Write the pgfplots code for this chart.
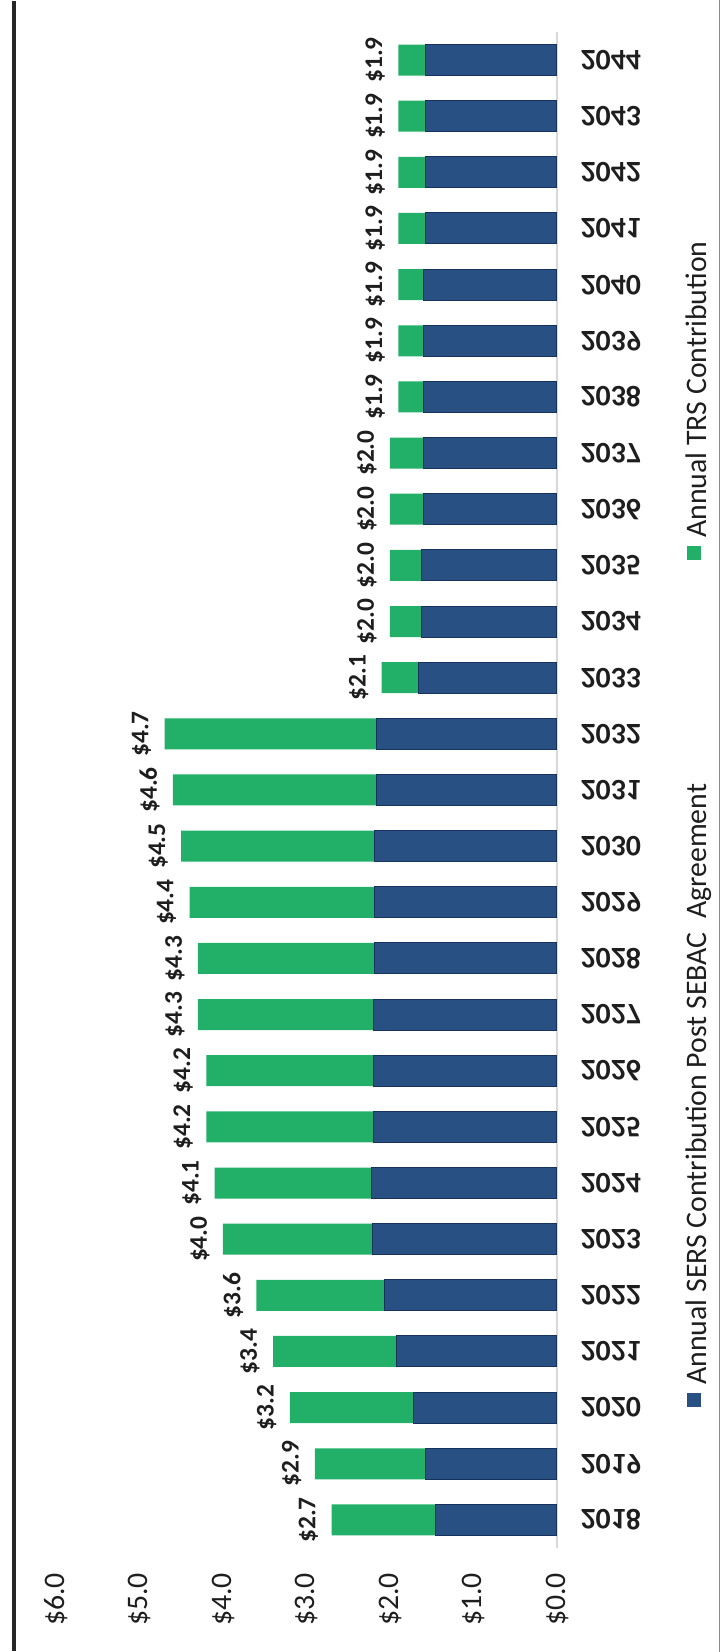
\documentclass[border=0pt]{standalone}
\usepackage{pgfplots}
\pgfplotsset{compat=1.18}
\usepackage{pgfplotstable}
\usepackage{fontspec}
\setmainfont{Carlito}

\definecolor{sers}{RGB}{40,80,130}
\definecolor{sersedge}{RGB}{24,50,94}
\definecolor{trs}{RGB}{34,176,104}
\definecolor{txt}{RGB}{30,30,30}

% Annual contributions, billions of dollars:
% SERS part and SERS + TRS total
\pgfplotstableread{
year sers total
2018 1.45 2.7
2019 1.57 2.9
2020 1.72 3.2
2021 1.92 3.4
2022 2.07 3.6
2023 2.21 4.0
2024 2.22 4.1
2025 2.20 4.2
2026 2.20 4.2
2027 2.20 4.3
2028 2.19 4.3
2029 2.18 4.4
2030 2.18 4.5
2031 2.16 4.6
2032 2.16 4.7
2033 1.66 2.1
2034 1.62 2.0
2035 1.62 2.0
2036 1.60 2.0
2037 1.60 2.0
2038 1.60 1.9
2039 1.60 1.9
2040 1.60 1.9
2041 1.58 1.9
2042 1.58 1.9
2043 1.57 1.9
2044 1.57 1.9
}\contrib

\begin{document}
\begin{tikzpicture}
\path[use as bounding box] (0,0) rectangle (361pt,826pt);
% page frame
\draw[line width=2.4pt, black!85] (7pt,0.5pt) -- (7pt,825.5pt);
\draw[line width=0.7pt, black!45] (359.6pt,0pt) -- (359.6pt,826pt);

\begin{axis}[
  at={(28pt,52pt)}, anchor=south west,
  scale only axis, width=250.5pt, height=758pt,
  xbar, bar width=15.5pt, bar shift=0pt,
  x dir=reverse,
  xmin=0, xmax=6, ymin=2017.5, ymax=2044.5,
  axis line style={draw=none},
  tick style={draw=none},
  /pgf/number format/assume math mode=true,
  xtick={0,1,2,3,4,5,6},
  xticklabels={\$0.0,\$1.0,\$2.0,\$3.0,\$4.0,\$5.0,\$6.0},
  xticklabel style={rotate=90, anchor=east, font=\fontsize{14.9}{17}\selectfont, text=txt},
  xticklabel shift=9pt,
  ytick={2018,...,2044},
  yticklabel pos=right,
  yticklabels from table={\contrib}{year},
  yticklabel style={yscale=-1, font=\bfseries\fontsize{14.9}{17}\selectfont, text=txt},
  yticklabel shift=4pt,
  clip=false,
]
\draw[gray!30, line width=0.6pt] (axis cs:0,2017.5) -- (axis cs:0,2044.5);
% TRS on top of SERS: the green bar runs to the total
\addplot[fill=trs, draw=none,
  point meta=explicit,
  nodes near coords={\$\pgfmathprintnumber[fixed,fixed zerofill,precision=1]{\pgfplotspointmeta}},
  every node near coord/.append style={rotate=90, anchor=south, inner sep=0pt, inner ysep=6.5pt,
    font=\bfseries\fontsize{12.7}{15}\selectfont, text=txt},
] table[x=total, y=year, meta=total] {\contrib};
\addplot[fill=sers, draw=sersedge, line width=0.5pt] table[x=sers, y=year] {\contrib};
\end{axis}

% legend, set along the right edge
\node[rotate=90, anchor=base west, inner sep=0pt, text=txt, font=\fontsize{14.9}{17}\selectfont]
  at (353pt,122.5pt) {{\color{sers}\rule[2.5pt]{7pt}{7pt}}\hspace{4pt}Annual SERS Contribution Post SEBAC\ \ Agreement};
\node[rotate=90, anchor=base west, inner sep=0pt, text=txt, font=\fontsize{14.9}{17}\selectfont]
  at (353pt,546pt) {{\color{trs}\rule[2.5pt]{7pt}{7pt}}\hspace{4pt}Annual TRS Contribution};
\end{tikzpicture}
\end{document}
